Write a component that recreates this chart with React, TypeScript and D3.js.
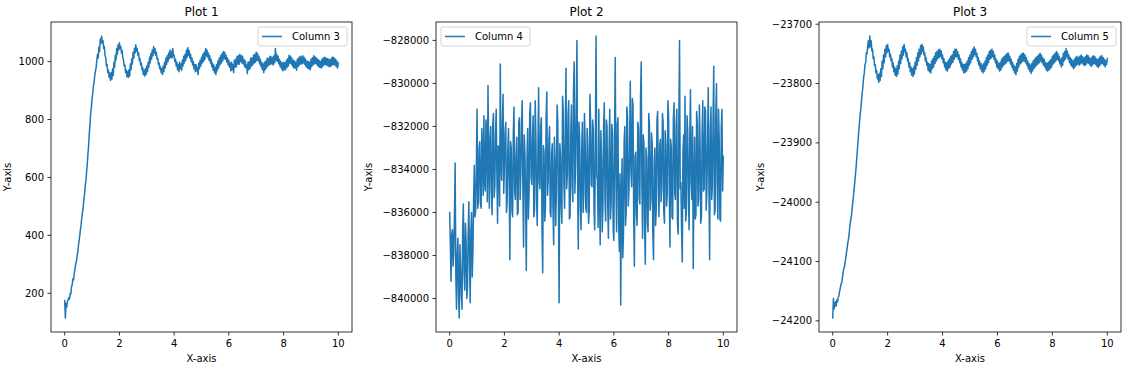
import React from "react";
import * as d3 from "d3";

// ---------- data (401 samples, x from 0 to 10) ----------
const xStart = 0;
const xEnd = 10;

const column3 = [
  175, 115, 165, 152, 172, 176, 185, 180, 200, 198, 222, 230, 250, 246, 270, 282, 300, 308, 325, 340,
  362, 382, 398, 420, 436, 460, 480, 496, 522, 542, 570, 588, 618, 645, 682, 710, 752, 785, 822, 842,
  872, 890, 915, 930, 952, 968, 980, 1005, 1025, 1012, 1050, 1035, 1078, 1062, 1088, 1065, 1072, 1045, 1052, 1020,
  1015, 985, 990, 962, 970, 945, 960, 935, 962, 940, 975, 952, 998, 980, 1022, 1005, 1045, 1025, 1058, 1040,
  1065, 1045, 1052, 1030, 1038, 1012, 1005, 985, 988, 962, 972, 948, 965, 945, 972, 950, 992, 972, 1010, 992,
  1032, 1012, 1046, 1030, 1058, 1036, 1045, 1022, 1030, 1005, 1010, 988, 995, 972, 980, 955, 970, 950, 975, 955,
  985, 965, 998, 980, 1015, 995, 1028, 1008, 1040, 1020, 1052, 1030, 1045, 1022, 1032, 1008, 1012, 990, 995, 975,
  982, 962, 975, 955, 985, 965, 998, 978, 1012, 990, 1020, 1000, 1030, 1010, 1040, 1015, 1035, 1012, 1045, 1020,
  1022, 1000, 1008, 985, 998, 972, 990, 965, 998, 975, 992, 970, 1005, 985, 1018, 995, 1025, 1005, 1040, 1015,
  1048, 1022, 1038, 1012, 1025, 1000, 1012, 988, 1000, 975, 990, 965, 990, 968, 980, 955, 995, 975, 1005, 985,
  1015, 995, 1025, 1000, 1032, 1008, 1045, 1020, 1040, 1015, 1030, 1005, 1020, 995, 1008, 982, 995, 970, 988, 962,
  980, 955, 990, 968, 1002, 978, 1012, 988, 1020, 995, 1028, 1002, 1035, 1010, 1032, 1008, 1022, 998, 1012, 988,
  1005, 980, 995, 968, 998, 972, 990, 962, 1005, 980, 1008, 982, 1018, 992, 1020, 990, 1025, 1000, 1020, 995,
  1018, 992, 1008, 982, 1002, 978, 988, 958, 998, 972, 1000, 975, 1012, 985, 1012, 988, 1022, 995, 1025, 998,
  1032, 1005, 1028, 1002, 1018, 992, 1008, 982, 998, 972, 992, 962, 998, 972, 1002, 978, 1012, 985, 1010, 988,
  1018, 992, 1016, 992, 1015, 988, 1020, 996, 1045, 1005, 1025, 1000, 1018, 992, 1008, 982, 1000, 975, 995, 968,
  998, 972, 996, 972, 1005, 980, 1010, 985, 1022, 995, 1018, 992, 1012, 985, 1005, 978, 1002, 978, 998, 970,
  1008, 982, 1012, 988, 1018, 992, 1016, 992, 1020, 995, 1015, 990, 1008, 982, 1002, 978, 1000, 975, 998, 972,
  1008, 982, 1012, 988, 1020, 992, 1016, 994, 1012, 988, 1008, 982, 1004, 980, 1000, 978, 1008, 982, 1012, 988,
  1015, 990, 1012, 988, 1010, 985, 1008, 982, 1006, 984, 1012, 988, 1016, 990, 1012, 988, 1008, 982, 1002, 978,
  995,
];

const column4 = [
  -836000, -837500, -839200, -837000, -836800, -838500, -837900, -836200, -833700, -838900,
  -840500, -838000, -837200, -839800, -840900, -837500, -838600, -839900, -840500, -836800,
  -835600, -838800, -839600, -836500, -837300, -840000, -839500, -837000, -835500, -838200,
  -840200, -836900, -836000, -839000, -837800, -835400, -833800, -836200, -835900, -834000,
  -831200, -835800, -835500, -833000, -832700, -835600, -835800, -832100, -833100, -835200,
  -831500, -834600, -835000, -831700, -832300, -835500, -830100, -833400, -835800, -832600,
  -832000, -834900, -836100, -831900, -831400, -835300, -834800, -832400, -831200, -834200,
  -836500, -832900, -833200, -835700, -829100, -833700, -834500, -831900, -830500, -835100,
  -833900, -832200, -831800, -836000, -835500, -833100, -832100, -834600, -838200, -832700,
  -833000, -835900, -836200, -832300, -831100, -835000, -835400, -833400, -832500, -836100,
  -836000, -831800, -831600, -835400, -834200, -832000, -830800, -834900, -837600, -832400,
  -833200, -835500, -838700, -833600, -832100, -836300, -835100, -831400, -830900, -834400,
  -834700, -832600, -831500, -836200, -835900, -830800, -832400, -835300, -836600, -833000,
  -830200, -834600, -834900, -832000, -831600, -836800, -838800, -832900, -833200, -836400,
  -835700, -831500, -830400, -835200, -834500, -832700, -832000, -836000, -836200, -833300,
  -832800, -835800, -837500, -832500, -833500, -836600, -835000, -831000, -831700, -835600,
  -840200, -832800, -833400, -835800, -836500, -830600, -831300, -834700, -835800, -832100,
  -829300, -834900, -834200, -831500, -830800, -836300, -836200, -832400, -831000, -834800,
  -835500, -830300, -829000, -835100, -833800, -831200, -828000, -834500, -837700, -831800,
  -832500, -835700, -836800, -833100, -831800, -836000, -835200, -831400, -832600, -835800,
  -836000, -832100, -833000, -836500, -835900, -830500, -831800, -834700, -834800, -831700,
  -832200, -835900, -836800, -832600, -827800, -834300, -834500, -836700, -831200, -835000,
  -837500, -832200, -833400, -836900, -835800, -832000, -830900, -835300, -836400, -831700,
  -832000, -835600, -837200, -833100, -831200, -836300, -835600, -831900, -832300, -836800,
  -837300, -832600, -828800, -834400, -836900, -831900, -831600, -836500, -837800, -834200,
  -840300, -835600, -833500, -838100, -837100, -832700, -832000, -836600, -836000, -831100,
  -831500, -835700, -835000, -832900, -829900, -834100, -834800, -830700, -831000, -836200,
  -838500, -833400, -833200, -836000, -836600, -831800, -832100, -835300, -835600, -830600,
  -829000, -834700, -837200, -832400, -832800, -836700, -838400, -833000, -833500, -836400,
  -836900, -831400, -831900, -835900, -835400, -832300, -832800, -837000, -838200, -833600,
  -833000, -836600, -835800, -831700, -831300, -834800, -836200, -832900, -832600, -835500,
  -834900, -831400, -831800, -836000, -836500, -832200, -832900, -835700, -835200, -830800,
  -831500, -834900, -837600, -832600, -833000, -836200, -836300, -831600, -830900, -835100,
  -835400, -832000, -831200, -836500, -837000, -831600, -828000, -834900, -834600, -836800,
  -838300, -833200, -832400, -835800, -830600, -836400, -836000, -831500, -832200, -835200,
  -836800, -832400, -830300, -834600, -835400, -832000, -838600, -834900, -832500, -836300,
  -836100, -831300, -831900, -835700, -835300, -831000, -832700, -836500, -836200, -832300,
  -830800, -835000, -834900, -831100, -831300, -835900, -835000, -832500, -830200, -834800,
  -838200, -832200, -831100, -835400, -834800, -831700, -829200, -836100, -835900, -831500,
  -830000, -834600, -836300, -831200, -832600, -836300, -836400, -832000, -831200, -835000,
  -833400,
];

const column5 = [
  -24195, -24162, -24180, -24172, -24168, -24175, -24165, -24168, -24160, -24158, -24150, -24145, -24138, -24136, -24128, -24120, -24112, -24110, -24102, -24094,
  -24085, -24078, -24068, -24062, -24052, -24040, -24032, -24025, -24015, -24002, -23992, -23980, -23968, -23955, -23942, -23926, -23910, -23895, -23880, -23866,
  -23852, -23842, -23828, -23815, -23805, -23790, -23782, -23768, -23765, -23748, -23750, -23735, -23728, -23740, -23720, -23738, -23728, -23745, -23742, -23758,
  -23755, -23770, -23768, -23782, -23778, -23792, -23785, -23798, -23783, -23795, -23775, -23788, -23762, -23775, -23752, -23765, -23742, -23755, -23736, -23748,
  -23734, -23746, -23742, -23755, -23750, -23762, -23758, -23772, -23765, -23780, -23772, -23786, -23775, -23788, -23770, -23784, -23762, -23775, -23752, -23766,
  -23745, -23758, -23738, -23752, -23734, -23746, -23742, -23755, -23748, -23762, -23758, -23772, -23765, -23780, -23772, -23786, -23775, -23788, -23772, -23784,
  -23764, -23776, -23756, -23769, -23748, -23762, -23742, -23755, -23736, -23750, -23734, -23746, -23738, -23752, -23748, -23762, -23756, -23769, -23764, -23778,
  -23766, -23780, -23768, -23782, -23762, -23775, -23758, -23772, -23754, -23766, -23748, -23762, -23746, -23758, -23743, -23756, -23742, -23754, -23745, -23758,
  -23752, -23765, -23758, -23772, -23764, -23777, -23765, -23779, -23762, -23774, -23758, -23772, -23754, -23767, -23752, -23764, -23746, -23759, -23742, -23755,
  -23742, -23755, -23746, -23759, -23752, -23765, -23758, -23772, -23764, -23777, -23768, -23782, -23768, -23781, -23766, -23779, -23762, -23775, -23756, -23769,
  -23752, -23765, -23746, -23759, -23742, -23755, -23738, -23751, -23742, -23755, -23749, -23762, -23756, -23769, -23762, -23775, -23766, -23779, -23769, -23782,
  -23766, -23779, -23762, -23775, -23756, -23769, -23752, -23765, -23746, -23759, -23744, -23757, -23742, -23755, -23746, -23759, -23752, -23765, -23759, -23772,
  -23762, -23775, -23766, -23779, -23764, -23777, -23759, -23772, -23756, -23769, -23754, -23767, -23752, -23765, -23749, -23762, -23749, -23762, -23754, -23767,
  -23759, -23772, -23764, -23777, -23769, -23782, -23772, -23785, -23766, -23779, -23759, -23772, -23754, -23767, -23752, -23765, -23749, -23762, -23749, -23762,
  -23752, -23765, -23756, -23769, -23762, -23775, -23766, -23779, -23769, -23783, -23766, -23779, -23762, -23775, -23759, -23772, -23756, -23769, -23754, -23767,
  -23752, -23765, -23749, -23762, -23752, -23765, -23756, -23769, -23759, -23772, -23764, -23777, -23766, -23779, -23764, -23777, -23762, -23775, -23759, -23772,
  -23754, -23767, -23752, -23765, -23749, -23762, -23746, -23759, -23749, -23762, -23754, -23767, -23759, -23772, -23756, -23769, -23749, -23762, -23746, -23759,
  -23741, -23755, -23746, -23759, -23752, -23765, -23756, -23769, -23759, -23772, -23762, -23775, -23759, -23772, -23756, -23769, -23754, -23767, -23756, -23769,
  -23754, -23767, -23752, -23765, -23755, -23768, -23757, -23770, -23755, -23768, -23752, -23765, -23753, -23766, -23756, -23769, -23758, -23771, -23755, -23768,
  -23753, -23766, -23755, -23768, -23758, -23771, -23760, -23773, -23757, -23770, -23754, -23767, -23753, -23766, -23756, -23769, -23759, -23772, -23762, -23768,
  -23758,
];

const xTicks = [0, 2, 4, 6, 8, 10];
const yTicks1 = [200, 400, 600, 800, 1000];
const yTicks2 = [-840000, -838000, -836000, -834000, -832000, -830000, -828000];
const yTicks3 = [-24200, -24100, -24000, -23900, -23800, -23700];
const titles = ["Plot 1", "Plot 2", "Plot 3"];
const legendLabels = ["Column 3", "Column 4", "Column 5"];
const xLabel = "X-axis";
const yLabel = "Y-axis";

// ---------- layout / style ----------
const W = 1129;
const H = 372;
const AX_TOP = 22;
const AX_H = 310;
const FONT = "'DejaVu Sans', sans-serif";
const LINE_COLOR = "#1f77b4";

const panels = [
  { left: 51, width: 301, values: column3, yTicks: yTicks1, legend: "right", yLabelX: 10.5 },
  { left: 436, width: 301, values: column4, yTicks: yTicks2, legend: "left", yLabelX: 371.5 },
  { left: 819, width: 302, values: column5, yTicks: yTicks3, legend: "right", yLabelX: 763.5 },
];

const fmt = (v: number) => String(v).replace("-", "\u2212");

function Panel({ idx }: { idx: number }) {
  const p = panels[idx];
  const n = p.values.length;
  const pts: [number, number][] = p.values.map((v, i) => [
    xStart + ((xEnd - xStart) * i) / (n - 1),
    v,
  ]);
  const [xmin, xmax] = d3.extent(pts, (d) => d[0]) as [number, number];
  const [ymin, ymax] = d3.extent(pts, (d) => d[1]) as [number, number];
  const xr = xmax - xmin;
  const yr = ymax - ymin;
  const x = d3
    .scaleLinear()
    .domain([xmin - 0.05 * xr, xmax + 0.05 * xr])
    .range([p.left, p.left + p.width]);
  const y = d3
    .scaleLinear()
    .domain([ymin - 0.05 * yr, ymax + 0.05 * yr])
    .range([AX_TOP + AX_H, AX_TOP]);
  const line = d3
    .line<[number, number]>()
    .x((d) => x(d[0]))
    .y((d) => y(d[1]));
  const bottom = AX_TOP + AX_H;
  const cx = p.left + p.width / 2;
  const clipId = `clip${idx}`;

  const legW = 89;
  const legH = 19;
  const legX = p.legend === "right" ? p.left + p.width - 5 - legW : p.left + 5;
  const legY = AX_TOP + 5;

  return (
    <g>
      <defs>
        <clipPath id={clipId}>
          <rect x={p.left} y={AX_TOP} width={p.width} height={AX_H} />
        </clipPath>
      </defs>
      <path
        d={line(pts) || ""}
        fill="none"
        stroke={LINE_COLOR}
        strokeWidth={1.5}
        strokeLinejoin="round"
        strokeLinecap="square"
        clipPath={`url(#${clipId})`}
      />
      <rect
        x={p.left}
        y={AX_TOP}
        width={p.width}
        height={AX_H}
        fill="none"
        stroke="#000"
        strokeWidth={0.8}
      />
      {xTicks.map((t) => (
        <g key={`x${t}`}>
          <line x1={x(t)} x2={x(t)} y1={bottom} y2={bottom + 3.5} stroke="#000" strokeWidth={0.8} />
          <text x={x(t)} y={bottom + 15.3} textAnchor="middle" fontSize={10} fontFamily={FONT} fill="#000">
            {fmt(t)}
          </text>
        </g>
      ))}
      {p.yTicks.map((t) => (
        <g key={`y${t}`}>
          <line x1={p.left - 3.5} x2={p.left} y1={y(t)} y2={y(t)} stroke="#000" strokeWidth={0.8} />
          <text
            x={p.left - 7}
            y={y(t)}
            dy="0.36em"
            textAnchor="end"
            fontSize={10}
            fontFamily={FONT}
            fill="#000"
          >
            {fmt(t)}
          </text>
        </g>
      ))}
      <text x={cx} y={16} textAnchor="middle" fontSize={12} fontFamily={FONT} fill="#000">
        {titles[idx]}
      </text>
      <text x={cx} y={362} textAnchor="middle" fontSize={10} fontFamily={FONT} fill="#000">
        {xLabel}
      </text>
      <text
        transform={`translate(${p.yLabelX},${AX_TOP + AX_H / 2}) rotate(-90)`}
        textAnchor="middle"
        fontSize={10}
        fontFamily={FONT}
        fill="#000"
      >
        {yLabel}
      </text>
      <rect
        x={legX}
        y={legY}
        width={legW}
        height={legH}
        rx={2}
        ry={2}
        fill="#fff"
        fillOpacity={0.8}
        stroke="#d4d4d4"
        strokeWidth={1}
      />
      <line x1={legX + 4} x2={legX + 24} y1={legY + 9.5} y2={legY + 9.5} stroke={LINE_COLOR} strokeWidth={1.5} />
      <text x={legX + 34} y={legY + 13.2} fontSize={10} fontFamily={FONT} fill="#000">
        {legendLabels[idx]}
      </text>
    </g>
  );
}

export default function App() {
  return (
    <svg
      width={W}
      height={H}
      viewBox={`0 0 ${W} ${H}`}
      style={{ position: "absolute", left: 0, top: 0, background: "#fff" }}
    >
      <rect x={0} y={0} width={W} height={H} fill="#fff" />
      {panels.map((_, i) => (
        <Panel key={i} idx={i} />
      ))}
    </svg>
  );
}
